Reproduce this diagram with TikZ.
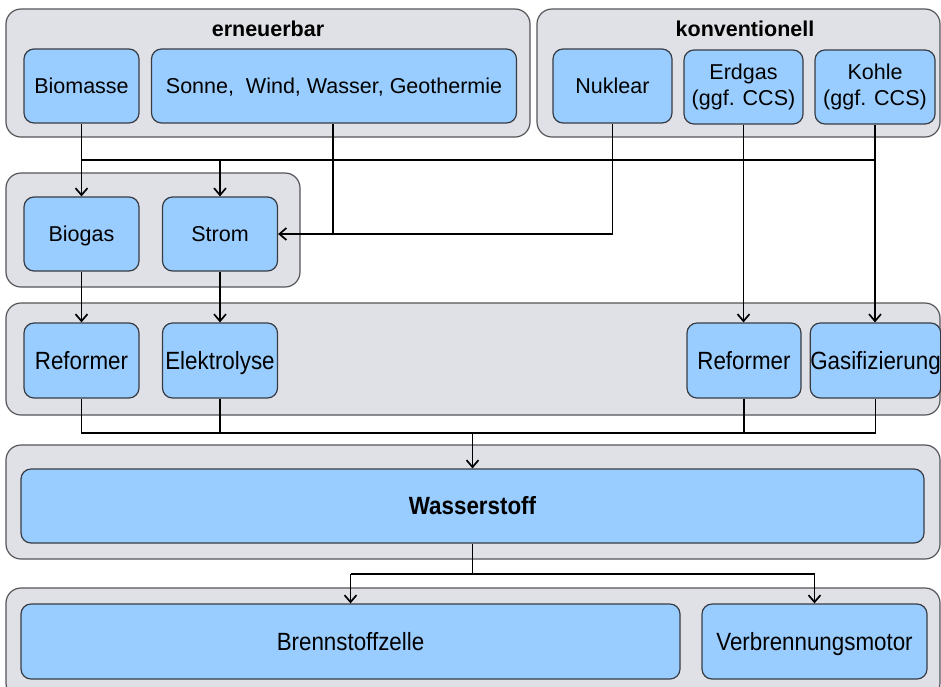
\documentclass[tikz,border=0pt]{standalone}
\usepackage{fontspec}
\setmainfont{Liberation Sans}
\usetikzlibrary{arrows.meta}
\definecolor{grpfill}{RGB}{224,225,230}
\definecolor{grpline}{RGB}{85,85,90}
\definecolor{boxfill}{RGB}{153,204,255}
\definecolor{boxline}{RGB}{55,60,68}
\newcommand{\lowtxt}[1]{\scalebox{1.04}[1.16]{#1}}
\begin{document}
\begin{tikzpicture}[x=1pt,y=-1pt,
  grp/.style={draw=grpline, fill=grpfill, line width=1.2pt, rounded corners=15pt},
  box/.style={draw=boxline, fill=boxfill, line width=1.2pt, rounded corners=10pt,
    inner sep=0pt, align=center, font=\fontsize{21.5}{25.5}\selectfont},
  capup/.style={text height=15.4pt, text depth=0pt},
  caplow/.style={text height=17.9pt, text depth=0pt},
  ttl/.style={font=\fontsize{21.5}{25}\selectfont\bfseries, anchor=base, inner sep=0pt},
  conn/.style={line width=1.7pt, draw=black},
  arr/.style={conn, -{Straight Barb[length=7pt,width=12pt]}}
]
\useasboundingbox (0,0) rectangle (941,686);
\fill[white] (0,0) rectangle (941,686);

% groups
\draw[grp] (6,9) rectangle (530,137);
\draw[grp] (537,9) rectangle (940,137);
\draw[grp] (6,173) rectangle (300,287);
\draw[grp] (6,303) rectangle (940,415);
\draw[grp] (6,445) rectangle (940,559);
\draw[grp] (6,588) rectangle (940,698);

\node[ttl] (t1) at (268,36) {erneuerbar};
\node[ttl] (t2) at (745,36) {konventionell};

% top row
\node[box, capup, minimum width=115pt, minimum height=74pt] (bio) at (81.5,86) {Biomasse};
\node[box, capup, minimum width=365pt, minimum height=74pt] (sonne) at (334,86) {Sonne,\ \ Wind, Wasser, Geothermie};
\node[box, capup, minimum width=119pt, minimum height=74pt] (nuk) at (612.5,86) {Nuklear};
\node[box, minimum width=119pt, minimum height=74pt] (erd) at (743.5,87) {Erdgas\\(ggf. CCS)};
\node[box, minimum width=120pt, minimum height=74pt] (kohle) at (875,87) {Kohle\\(ggf. CCS)};

% second row
\node[box, capup, minimum width=115pt, minimum height=74pt] (biogas) at (81.5,234) {Biogas};
\node[box, capup, minimum width=115pt, minimum height=74pt] (strom) at (220,234) {Strom};

% third row
\node[box, caplow, minimum width=115pt, minimum height=75pt] (ref1) at (81.5,360.5) {\lowtxt{Reformer}};
\node[box, caplow, minimum width=115pt, minimum height=75pt] (elek) at (220,360.5) {\lowtxt{Elektrolyse}};
\node[box, caplow, minimum width=114pt, minimum height=75pt] (ref2) at (744,360.5) {\lowtxt{Reformer}};
\node[box, caplow, minimum width=128pt, minimum height=75pt] (gas) at (875.5,360.5) {\lowtxt{Gasifizierung}};

% hydrogen
\node[box, caplow, minimum width=903pt, minimum height=74pt] (wasser) at (472.5,506) {\lowtxt{\bfseries Wasserstoff}};

% use
\node[box, caplow, minimum width=659pt, minimum height=75pt] (bsz) at (350.5,641.5) {\lowtxt{Brennstoffzelle}};
\node[box, caplow, minimum width=225pt, minimum height=75pt] (vbm) at (814.5,641.5) {\lowtxt{Verbrennungsmotor}};

% helper coordinates
\coordinate (busA) at (0,160);
\coordinate (busB) at (0,433);
\coordinate (fork) at (0,574);

% connectors upper
\draw[arr] (bio.south) -- (biogas.north);
\draw[conn] (bio.south |- busA) -- (kohle.south |- busA);
\draw[arr] (strom.north |- busA) -- (strom.north);
\draw[arr] (kohle.south) -- (kohle.south |- gas.north);
\draw[arr] ([xshift=-1pt]sonne.south) |- (strom.east);
\draw[conn] (nuk.south) |- ([xshift=-1pt]sonne.south |- strom.east);
\draw[arr] (erd.south) -- (erd.south |- ref2.north);
\draw[arr] (biogas.south) -- (ref1.north);
\draw[arr] (strom.south) -- (elek.north);

% connectors lower
\draw[conn] (ref1.south) -- (ref1.south |- busB) -- (gas.south |- busB) -- (gas.south);
\draw[conn] (elek.south) -- (elek.south |- busB);
\draw[conn] (ref2.south) -- (ref2.south |- busB);
\draw[arr] (wasser.north |- busB) -- (wasser.north);
\draw[conn] (wasser.south) -- (wasser.south |- fork);
\draw[conn] (bsz.north |- fork) -- (vbm.north |- fork);
\draw[arr] (bsz.north |- fork) -- (bsz.north);
\draw[arr] (vbm.north |- fork) -- (vbm.north);
\end{tikzpicture}
\end{document}
